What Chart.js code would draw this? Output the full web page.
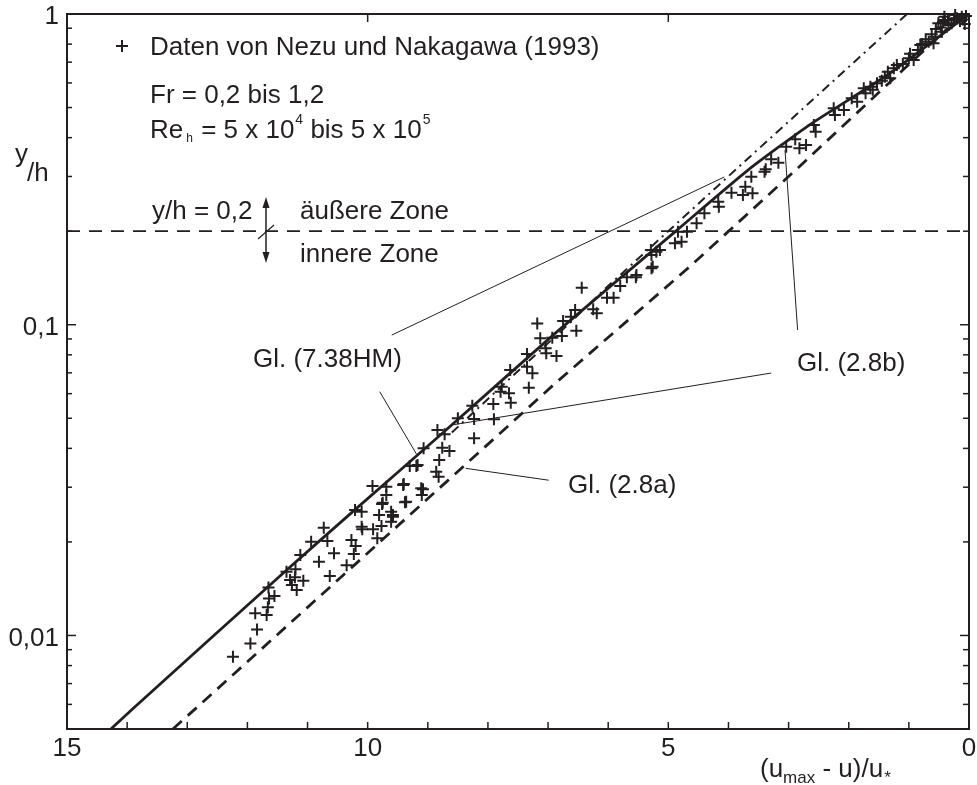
<!DOCTYPE html>
<html><head><meta charset="utf-8">
<script src="https://cdn.jsdelivr.net/npm/chart.js@4/dist/chart.umd.min.js"></script>
<style>html,body{margin:0;padding:0;background:#fff;}canvas{display:block}</style>
</head><body>
<canvas id="c" width="977" height="785"></canvas>
<script>
const INK = '#231f20';
const FONT = "'Liberation Sans', Arial, Helvetica, sans-serif";

// measured data (Nezu & Nakagawa 1993): x = (umax-u)/u*, y = y/h
const dataX = [12.24,11.95,11.84,11.87,11.68,11.66,11.65,11.64,11.55,11.35,
11.29,11.26,11.18,11.20,11.21,11.07,11.12,10.94,10.81,10.73,
10.67,10.63,10.56,10.35,10.27,10.20,10.23,10.21,10.10,10.09,
9.91,9.84,9.81,9.77,9.76,9.92,9.69,9.69,9.61,9.58,
9.61,9.41,9.38,9.11,9.10,9.30,9.19,9.07,8.86,8.82,
8.81,8.76,8.64,8.84,8.72,8.50,8.23,8.23,8.26,7.91,
7.90,7.62,7.79,7.77,7.65,7.63,7.35,7.35,7.32,7.26,
7.18,7.13,7.04,7.03,6.86,6.93,6.77,6.75,6.62,6.53,
6.55,6.44,6.25,6.19,6.02,5.91,5.80,5.69,5.53,5.54,
5.28,5.28,5.26,5.20,5.14,5.29,4.89,4.78,4.84,4.69,
4.53,4.40,4.16,4.17,3.95,3.76,3.72,3.60,3.62,3.40,
3.38,3.29,3.17,3.04,2.89,2.82,2.71,2.58,2.55,2.25,
2.23,2.08,1.95,1.86,1.72,1.75,1.64,1.53,1.40,1.31,
1.35,1.25,1.20,1.00,0.92,0.85,0.81,0.67,0.59,0.56,
0.45,0.43,0.34,0.20,0.12,0.07,0.41,0.23,0.29,0.40,
0.51,9.17,9.08,9.40,9.36,9.75,9.58,10.10,
0.05,0.15,0.25,0.35,0.10,0.47,0.55,0.62,0.72,0.78,
0.98,1.10,1.45,1.60];
const dataY = [0.00854,0.00943,0.01046,0.01178,0.01163,0.01232,0.01428,0.01316,0.01339,0.01603,
0.01508,0.01453,0.01400,0.01632,0.01538,0.01500,0.01815,0.02002,0.01727,0.02222,
0.02013,0.01553,0.01838,0.01681,0.02028,0.01941,0.01828,0.02534,0.02501,0.02196,
0.02196,0.02054,0.02440,0.02249,0.02648,0.03027,0.03011,0.02830,0.02501,0.02410,
0.02323,0.03049,0.02682,0.02975,0.02830,0.03509,0.03509,0.04001,0.03364,0.03242,
0.03668,0.04019,0.03923,0.04583,0.04439,0.04998,0.04972,0.04309,0.05487,0.05557,
0.04961,0.05610,0.06087,0.06318,0.06015,0.07147,0.08045,0.07324,0.06271,0.06975,
0.1010,0.09042,0.08395,0.08091,0.07930,0.09082,0.09196,0.1028,0.1061,0.0956,
0.1115,0.1315,0.1121,0.1088,0.1221,0.1221,0.1332,0.1421,0.1445,0.1421,
0.1519,0.1676,0.1537,0.1718,0.1739,0.1739,0.1828,0.1850,0.1992,0.1992,
0.2120,0.2284,0.2398,0.2488,0.2660,0.2615,0.2781,0.2648,0.2995,0.3108,
0.3163,0.3406,0.3322,0.3740,0.3951,0.3696,0.3788,0.4392,0.4180,0.4971,
0.4730,0.4909,0.5355,0.5221,0.5557,0.5766,0.5834,0.5984,0.6283,0.6209,
0.6519,0.6685,0.6852,0.7200,0.7110,0.7659,0.7947,0.8144,0.8049,0.8451,
0.8770,0.9445,0.9217,0.9687,0.9802,0.9286,0.9802,0.9926,0.9334,0.9565,
0.933,0.03536,0.02953,0.03071,0.02694,0.02674,0.0244,0.0224,
0.985,0.950,0.965,0.955,0.960,0.905,0.895,0.860,0.830,0.800,
0.745,0.690,0.610,0.570];

// Gl. (7.38HM) solid curve
const solidX = [14.27, 13.91, 11.37, 10.21, 8.72, 6.85, 4.89, 3.68, 2.65, 1.34, 0];
const solidY = [0.005, 0.0058, 0.0161, 0.0254, 0.0454, 0.095, 0.199, 0.314, 0.44, 0.64, 1];
// Gl. (2.8a) dashed line
const dashX = [13.24, 12.89, 9.06, 6.88, 4.64, 2.88, 1.10, 0.35];
const dashY = [0.005, 0.00575, 0.0269, 0.0648, 0.154, 0.315, 0.66, 0.90];
// dash-dot log law
const ddX = [8.6, 6.67, 6.08, 3.98, 1.03];
const ddY = [0.045, 0.1, 0.129, 0.303, 1.0];
// zone boundary y/h = 0.2
const refX = [15, 0];
const refY = [0.2, 0.2];
// leader lines for the equation labels (data coordinates)
const leaderX = [[9.60, 4.07], [9.80, 9.19], [8.62, 3.29], [3.06, 2.85], [8.37, 6.99]];
const leaderY = [[0.0926, 0.2988], [0.0609, 0.0384], [0.0475, 0.0699], [0.3649, 0.0962], [0.0345, 0.0316]];

// axis ticks
const xTickLabels = {15: '15', 10: '10', 5: '5', 0: '0'};
const xMinorTicks = [1,2,3,4,5,6,7,8,9,10,11,12,13,14];
const xTopTicks = [5, 10];
const yMajorTicks = [0.01, 0.1, 1];
const yTickLabels = ['0,01', '0,1', '1'];
const yMinorTicks = [0.006,0.007,0.008,0.009,0.02,0.03,0.04,0.05,0.06,0.07,0.08,0.09,0.2,0.3,0.4,0.5,0.6,0.7,0.8,0.9];

const pts = (xs, ys) => xs.map((x, i) => ({x, y: ys[i]}));

function yLabel(v) {
  for (let i = 0; i < yMajorTicks.length; i++) {
    if (Math.abs(Math.log10(v) - Math.log10(yMajorTicks[i])) < 1e-6) return yTickLabels[i];
  }
  return '';
}

const overlay = {
  id: 'overlay',
  afterDraw(chart) {
    const {ctx, chartArea: a, scales: {x, y}} = chart;
    const line = (x1, y1, x2, y2) => { ctx.beginPath(); ctx.moveTo(x1, y1); ctx.lineTo(x2, y2); ctx.stroke(); };
    const txt = (s, px, py, size) => { ctx.font = size + 'px ' + FONT; ctx.fillText(s, px, py); return ctx.measureText(s).width; };
    ctx.save();
    ctx.strokeStyle = INK; ctx.fillStyle = INK;
    ctx.textAlign = 'left'; ctx.textBaseline = 'alphabetic';
    // frame
    ctx.lineWidth = 2;
    ctx.strokeRect(a.left, a.top, a.right - a.left, a.bottom - a.top);
    // inward ticks
    ctx.lineWidth = 1.5;
    yMajorTicks.forEach(v => { const p = y.getPixelForValue(v); line(a.left, p, a.left + 9, p); line(a.right, p, a.right - 9, p); });
    yMinorTicks.forEach(v => { const p = y.getPixelForValue(v); line(a.left, p, a.left + 5, p); line(a.right, p, a.right - 6, p); });
    xMinorTicks.forEach(v => { const p = x.getPixelForValue(v); line(p, a.bottom, p, a.bottom - 7); });
    xTopTicks.forEach(v => { const p = x.getPixelForValue(v); line(p, a.top, p, a.top + 8); });

    // legend
    ctx.lineWidth = 2;
    line(116, 46, 128, 46); line(122, 40, 122, 52);
    txt('Daten von Nezu und Nakagawa (1993)', 150, 55, 26);
    txt('Fr = 0,2 bis 1,2', 150, 103, 26);
    let cx = 150;
    cx += txt('Re', cx, 138, 26) + 3;
    cx += txt('h', cx, 142, 12) + 1;
    cx += txt(' = 5 x 10', cx, 138, 26) + 1;
    cx += txt('4', cx, 124, 14);
    cx += txt(' bis 5 x 10', cx, 138, 26) + 1;
    txt('5', cx, 124, 14);

    // zone annotation
    txt('y/h = 0,2', 152, 219, 26);
    txt('äußere Zone', 300, 219, 26);
    txt('innere Zone', 300, 262, 26);
    ctx.lineWidth = 1.5;
    line(266, 204, 266, 256);
    ctx.beginPath(); ctx.moveTo(266, 197); ctx.lineTo(262.5, 208); ctx.lineTo(269.5, 208); ctx.closePath(); ctx.fill();
    ctx.beginPath(); ctx.moveTo(266, 263); ctx.lineTo(262.5, 252); ctx.lineTo(269.5, 252); ctx.closePath(); ctx.fill();
    ctx.lineWidth = 1.2;
    line(258, 239, 274, 225);

    // equation labels
    txt('Gl. (7.38HM)', 253, 367, 26);
    txt('Gl. (2.8b)', 797, 371, 26);
    txt('Gl. (2.8a)', 568, 493, 26);

    // y axis title  y/h
    txt('y', 15, 162, 26);
    txt('/h', 27, 181, 26);

    // x axis title (u_max - u)/u*
    cx = 760;
    cx += txt('(u', cx, 777, 26);
    cx += txt('max', cx, 783, 17);
    cx += txt(' - u)/u', cx, 777, 26);
    txt('*', cx + 1, 783, 17);
    ctx.restore();
  }
};

const datasets = [];
datasets.push({label: 'y/h = 0,2', data: pts(refX, refY), showLine: true, borderColor: INK, borderWidth: 1.8, borderDash: [13, 9], pointRadius: 0});
leaderX.forEach((lx, i) => datasets.push({label: 'leader' + i, data: pts(lx, leaderY[i]), showLine: true, borderColor: INK, borderWidth: 1, pointRadius: 0}));
datasets.push({label: 'Gl. (2.8a)', data: pts(dashX, dashY), showLine: true, borderColor: INK, borderWidth: 2.8, borderDash: [12, 8], pointRadius: 0});
datasets.push({label: 'log law', data: pts(ddX, ddY), showLine: true, borderColor: INK, borderWidth: 2, borderDash: [9, 5, 2, 5], pointRadius: 0});
datasets.push({label: 'Gl. (7.38HM)', data: pts(solidX, solidY), showLine: true, borderColor: INK, borderWidth: 2.8, pointRadius: 0, tension: 0.2});
datasets.push({label: 'Daten', data: pts(dataX, dataY), pointStyle: 'cross', pointRadius: 6, borderWidth: 2, borderColor: INK, backgroundColor: INK, clip: 7});

new Chart(document.getElementById('c'), {
  type: 'scatter',
  data: {datasets},
  options: {
    responsive: false, animation: false, devicePixelRatio: 1,
    layout: {padding: {left: 0, right: 3, top: 14, bottom: 0}},
    plugins: {legend: {display: false}, tooltip: {enabled: false}},
    scales: {
      x: {
        type: 'linear', reverse: true, min: 0, max: 15,
        grid: {display: false, drawTicks: false}, border: {display: false},
        ticks: {stepSize: 1, autoSkip: false, maxRotation: 0, padding: 4, color: INK,
          font: {family: FONT, size: 26},
          callback: v => (xTickLabels[v] !== undefined ? xTickLabels[v] : '')},
        afterFit(s) { s.height = 56; s.paddingLeft = 0; s.paddingRight = 0; }
      },
      y: {
        type: 'logarithmic', min: 0.005, max: 1,
        grid: {display: false, drawTicks: false}, border: {display: false},
        ticks: {autoSkip: false, padding: 8, labelOffset: 3, color: INK,
          font: {family: FONT, size: 26},
          callback: v => yLabel(v)},
        afterFit(s) { s.width = 67; s.paddingTop = 0; s.paddingBottom = 0; }
      }
    }
  },
  plugins: [overlay]
});
</script>
</body></html>
